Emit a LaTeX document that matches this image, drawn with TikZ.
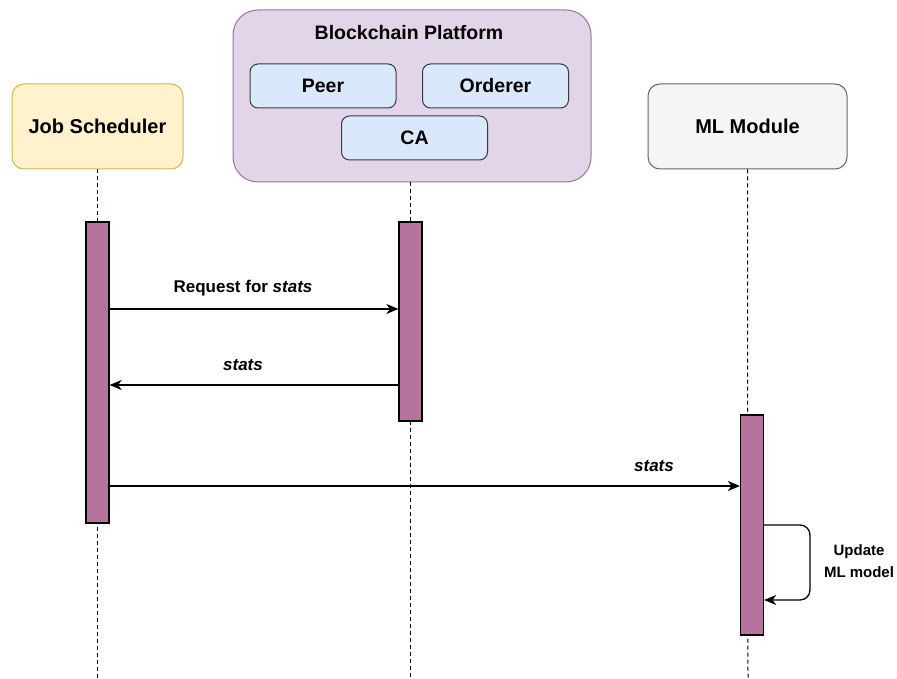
\documentclass[tikz,border=0pt]{standalone}
\usepackage{fontspec}
\setmainfont{Liberation Sans}
\usetikzlibrary{arrows.meta}
\definecolor{jsfill}{HTML}{FFF2CC}
\definecolor{jsline}{HTML}{D6B656}
\definecolor{bpfill}{HTML}{E1D5E7}
\definecolor{bpline}{HTML}{9673A6}
\definecolor{cfill}{HTML}{DAE8FC}
\definecolor{cline}{HTML}{36393D}
\definecolor{mlfill}{HTML}{F5F5F5}
\definecolor{mlline}{HTML}{666666}
\definecolor{barfill}{HTML}{B5739D}
\tikzset{
  actor/.style={draw, rounded corners=12pt, line width=1pt, minimum width=171pt, minimum height=85pt, font=\fontsize{20}{23}\selectfont\bfseries, inner sep=0pt},
  comp/.style={draw=cline, fill=cfill, rounded corners=8pt, line width=1pt, minimum width=146pt, minimum height=44pt, font=\fontsize{19.5}{22}\selectfont\bfseries, inner sep=0pt},
  bar/.style={draw=black, fill=barfill, line width=1.2pt, minimum width=23pt, inner sep=0pt},
  life/.style={dash pattern=on 4pt off 3pt, line width=1pt},
  msg/.style={line width=1.3pt, -{Stealth[length=12pt,width=10pt,inset=3.5pt]}},
  lbl/.style={font=\fontsize{17}{20}\selectfont\bfseries},
}
\begin{document}
\begin{tikzpicture}[x=1pt,y=-1pt]
\useasboundingbox (0,0) rectangle (897,679);
% actors
\node[actor, fill=jsfill, draw=jsline] (js) at (97.5,126.5) {Job Scheduler};
\node[draw=bpline, fill=bpfill, rounded corners=25pt, line width=1pt, minimum width=358pt, minimum height=172pt, inner sep=0pt] (bp) at (412,96) {};
\node[font=\fontsize{19.5}{22}\selectfont\bfseries] (bpt) at (409,33) {Blockchain Platform};
\node[comp] (peer) at (323,86) {Peer};
\node[comp] (ord) at (495.5,86) {Orderer};
\node[comp] (ca) at (414.5,138) {CA};
\node[actor, fill=mlfill, draw=mlline, minimum width=199pt] (ml) at (747.5,126.5) {ML Module};
% lifeline end coordinates
\coordinate (jsend) at (97.5,679);
\coordinate (bpend) at (410.5,679);
\coordinate (mlend) at (748,679);
\draw[life] (js.south) -- (jsend);
\draw[life] (bp.south -| bpend) -- (bpend);
\draw[life] (ml.south) -- (mlend);
% activation bars
\node[bar, minimum height=301pt] (jsbar) at (97.5,372.5) {};
\node[bar, minimum height=199pt] (bpbar) at (410.5,321.5) {};
\node[bar, minimum height=220pt] (mlbar) at (752,525) {};
% messages
\coordinate (m1) at (0,309);
\coordinate (m2) at (0,385);
\coordinate (m3) at (0,486);
\draw[msg] (jsbar.east |- m1) -- (bpbar.west |- m1);
\node[lbl] (l1) at (243,288) {Request for \textit{stats}};
\draw[msg] (bpbar.west |- m2) -- (jsbar.east |- m2);
\node[lbl] (l2) at (243,365) {\textit{stats}};
\draw[msg] (jsbar.east |- m3) -- (mlbar.west |- m3);
\node[lbl] (l3) at (654,466) {\textit{stats}};
% self message
\coordinate (s1) at (0,525);
\coordinate (s2) at (0,600);
\coordinate (sx) at (810,0);
\draw[msg, rounded corners=10pt] (mlbar.east |- s1) -- (sx |- s1) -- (sx |- s2) -- (mlbar.east |- s2);
\node[font=\fontsize{15}{22}\selectfont\bfseries, align=center] (l4) at (859,561) {Update\\ML model};
\end{tikzpicture}
\end{document}
